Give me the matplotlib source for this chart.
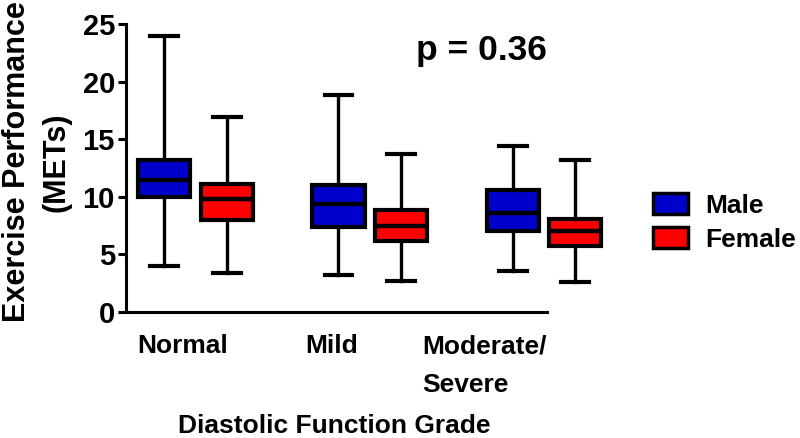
import matplotlib
matplotlib.use("Agg")
import matplotlib.pyplot as plt
from matplotlib.patches import Patch

# data (METs)
grades = ["Normal", "Mild", "Moderate/\nSevere"]
groups = ["Male", "Female"]
colors = ["#0000cc", "#ff0000"]

male_low = [4.0, 3.2, 3.6]
male_q1 = [10.0, 7.4, 7.0]
male_med = [11.5, 9.4, 8.6]
male_q3 = [13.2, 11.0, 10.6]
male_high = [24.0, 18.8, 14.4]

female_low = [3.4, 2.7, 2.6]
female_q1 = [8.0, 6.2, 5.7]
female_med = [9.8, 7.5, 7.0]
female_q3 = [11.1, 8.85, 8.1]
female_high = [16.9, 13.7, 13.2]

p_text = "p = 0.36"

plt.rcParams['font.family'] = ['Liberation Sans', 'DejaVu Sans']
plt.rcParams['font.weight'] = 'bold'
plt.rcParams['axes.labelweight'] = 'bold'
plt.rcParams['font.size'] = 19

fig = plt.figure(figsize=(8, 4.38), dpi=100)
ax = fig.add_axes([0.1575, 0.2877, 0.6096, 0.6575])


def stats(low, q1, med, q3, high):
    return [dict(whislo=a, q1=b, med=c, q3=d, whishi=e, fliers=[])
            for a, b, c, d, e in zip(low, q1, med, q3, high)]


series = [stats(male_low, male_q1, male_med, male_q3, male_high),
          stats(female_low, female_q1, female_med, female_q3, female_high)]
offsets = [-0.18, 0.18]

for st, off, col in zip(series, offsets, colors):
    pos = [i + off for i in range(len(grades))]
    ax.bxp(st, positions=pos, widths=0.30, patch_artist=True,
           showfliers=False,
           boxprops=dict(facecolor=col, edgecolor='black', linewidth=3),
           medianprops=dict(color='black', linewidth=3.2),
           whiskerprops=dict(color='black', linewidth=2.4),
           capprops=dict(color='black', linewidth=3),
           capwidths=0.16)

ax.set_ylim(0, 25)
ax.set_xlim(-0.40, 2.40)
ax.set_yticks([0, 5, 10, 15, 20, 25])
ax.tick_params(axis='y', length=6, width=2.2, pad=2, labelsize=21)
ax.tick_params(axis='x', length=0, pad=16, labelsize=19)

# category labels sit a bit left of the group centres in the original
ax.set_xticks([-0.077, 0.783, 1.656])
ax.set_xticklabels(grades, linespacing=1.8, multialignment='left')

for s in ['top', 'right']:
    ax.spines[s].set_visible(False)
for s in ['left', 'bottom']:
    ax.spines[s].set_linewidth(2.2)
ax.spines['bottom'].set_bounds(-0.40, 2.015)

ax.set_ylabel("Exercise Performance\n(METs)", fontsize=22, linespacing=1.4,
              labelpad=8)
ax.yaxis.label.set_y(0.521)
ax.set_xlabel("Diastolic Function Grade", fontsize=19, labelpad=12)
ax.xaxis.label.set_x(0.4265)

ax.text(1.64, 22.7, p_text, fontsize=25.5, ha='center', va='center')

handles = [Patch(facecolor=c, edgecolor='black', linewidth=2.5) for c in colors]
fig.legend(handles, groups, loc='center left', bbox_to_anchor=(653 / 800, 0.492),
           frameon=False, fontsize=19, handlelength=1.33, handleheight=0.83,
           handletextpad=0.64, labelspacing=0.35, borderpad=0, borderaxespad=0)

fig.savefig("out.png", dpi=100)
